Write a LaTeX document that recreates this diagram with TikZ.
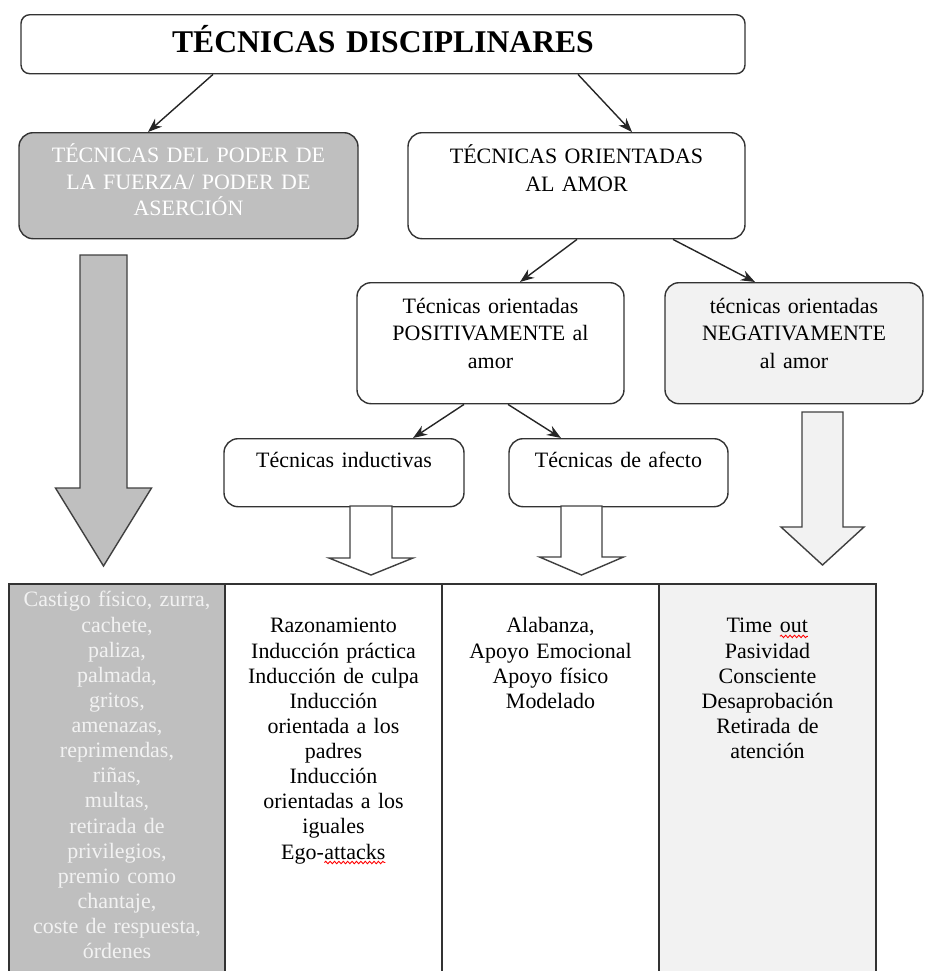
\documentclass[tikz,border=0pt]{standalone}
\usepackage{fontspec}
\setmainfont{Liberation Serif}
\usetikzlibrary{calc,arrows.meta,decorations.pathmorphing}
\definecolor{forcegray}{HTML}{BFBFBF}
\definecolor{palegray}{HTML}{F2F2F2}
% red wavy mark of the spell checker
\newcommand\redwave[1]{\tikz[baseline=(w.base)]{\node[draw=none,fill=none,inner sep=0pt,outer sep=0pt,text width=,text height=,text depth=,anchor=base] (w) {#1};
  \draw[red,line width=0.5pt,decorate,decoration={snake,amplitude=0.7pt,segment length=2.5pt}] ([yshift=-2pt]w.base west) -- ([yshift=-2pt]w.base east);}}
\begin{document}
\begin{tikzpicture}[x=0.02cm,y=-0.02cm,
  every node/.style={font=\fontsize{12.5}{15.5}\selectfont},
  wh/.style n args={3}{text width=#1*0.02cm,text height=#2*0.02cm,text depth=#3*0.02cm},
  box/.style={draw=black!80,line width=0.8pt,rounded corners=8pt,anchor=north,inner sep=0pt,align=center},
  cell/.style={draw=black!80,line width=1pt,anchor=north,inner sep=0pt,align=center,font=\fontsize{12.5}{14.3}\selectfont},
  link/.style={-{Stealth[length=8pt,width=6pt]},line width=0.8pt,black!85},
  fat/.style={draw=black!75,line width=0.8pt}]
\useasboundingbox (0,0) rectangle (925,971);
\clip (0,0) rectangle (925,971);

\node[box,rounded corners=5pt,wh={724}{38}{21},font=\fontsize{18}{20}\selectfont\bfseries] (title) at (383,14) {TÉCNICAS DISCIPLINARES};
\node[box,wh={339}{30}{76},fill=forcegray,text=white,font=\fontsize{12.5}{15}\selectfont] (fuerza) at (188.5,132) {TÉCNICAS DEL PODER DE\\LA FUERZA/ PODER DE\\ASERCIÓN};
\node[box,wh={337}{31}{75},font=\fontsize{12.5}{16}\selectfont] (orient) at (576.5,132) {TÉCNICAS ORIENTADAS\\AL AMOR};
\node[box,wh={267}{31}{90}] (positive) at (490.5,282) {Técnicas orientadas\\POSITIVAMENTE al\\amor};
\node[box,wh={258}{31}{90},fill=palegray] (negative) at (794,282) {técnicas orientadas\\NEGATIVAMENTE\\al amor};
\node[box,wh={240}{29}{39}] (inductive) at (344,438) {Técnicas inductivas};
\node[box,wh={219}{29}{39}] (affect) at (618.5,438) {Técnicas de afecto};

% table at the bottom
\node[cell,wh={216}{23}{400},fill=forcegray,text=palegray] (power) at (117,583) {Castigo físico, zurra,\\cachete,\\paliza,\\palmada,\\gritos,\\amenazas,\\reprimendas,\\riñas,\\multas,\\retirada de\\privilegios,\\premio como\\chantaje,\\coste de respuesta,\\órdenes};
\node[cell,wh={217}{49}{374}] (induct) at (333.5,583) {Razonamiento\\Inducción práctica\\Inducción de culpa\\Inducción\\orientada a los\\padres\\Inducción\\orientadas a los\\iguales\\Ego-\redwave{attacks}};
\node[cell,wh={217}{49}{374}] (warm) at (550.5,583) {Alabanza,\\Apoyo Emocional\\Apoyo físico\\Modelado};
\node[cell,wh={217}{49}{374},fill=palegray] (withdraw) at (767.5,583) {Time \redwave{out}\\Pasividad\\Consciente\\Desaprobación\\Retirada de\\atención};

\draw[link] ($(title.south)+(-170,0)$) -- ($(fuerza.north)+(-40.5,0)$);
\draw[link] ($(title.south)+(195,0)$) -- ($(orient.north)+(55.5,0)$);
\draw[link] ($(orient.south)+(0.5,0)$) -- ($(positive.north)+(29.5,0)$);
\draw[link] ($(orient.south)+(96.5,0)$) -- ($(negative.north)+(-39,0)$);
\draw[link] ($(positive.south)+(-26.5,0)$) -- ($(inductive.north)+(69,0)$);
\draw[link] ($(positive.south)+(17.5,0)$) -- ($(affect.north)+(-57.5,0)$);

% block arrows down to the table
\foreach \cx/\ya/\yb/\yc/\hs/\hh/\col in {103.5/255/488/566/23.5/48/forcegray, 371/506/558/575/21/42/white, 581.5/506/557/575/20.5/42/white, 822.5/412/527/565/20.5/41.5/palegray}
  \draw[fat,fill=\col] (\cx-\hs,\ya) -- (\cx+\hs,\ya) -- (\cx+\hs,\yb) -- (\cx+\hh,\yb) -- (\cx,\yc) -- (\cx-\hh,\yb) -- (\cx-\hs,\yb) -- cycle;
\end{tikzpicture}
\end{document}
